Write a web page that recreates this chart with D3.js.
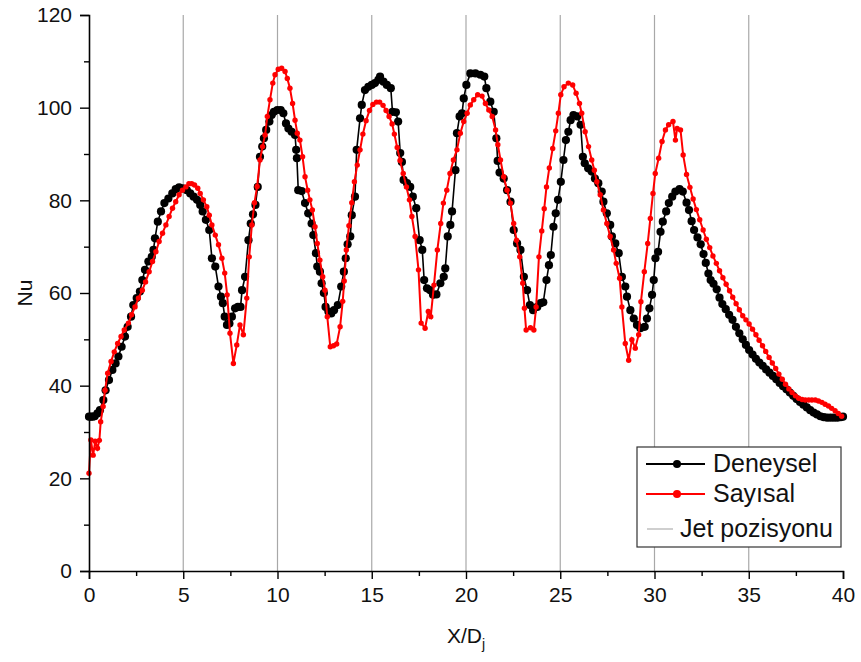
<!DOCTYPE html>
<html>
<head>
<meta charset="utf-8">
<script src="https://cdn.jsdelivr.net/npm/d3@7"></script>
<style>
  html, body { margin: 0; padding: 0; background: #fff; }
  svg { display: block; font-family: "Liberation Sans", Arial, sans-serif; }
</style>
</head>
<body>
<svg id="chart" width="861" height="662"></svg>
<script>
// Nusselt number along the plate: measured (Deneysel) and computed (Sayısal)
const deneysel = [
  [0.00,33.3],[0.10,33.3],[0.20,33.3],[0.30,33.4],[0.45,34.0],[0.58,34.7],[0.76,36.9],[0.88,39.0],
  [1.06,41.2],[1.24,43.4],[1.41,44.8],[1.56,46.3],[1.73,48.4],[1.91,50.6],[2.05,52.7],[2.23,54.9],
  [2.35,57.4],[2.53,58.9],[2.70,60.3],[2.83,62.8],[2.97,65.0],[3.15,66.8],[3.33,67.8],[3.42,69.3],
  [3.50,71.8],[3.65,75.4],[3.82,77.6],[4.00,79.4],[4.21,80.4],[4.42,81.5],[4.60,82.4],[4.78,82.8],
  [4.96,82.6],[5.19,82.2],[5.37,81.5],[5.55,80.8],[5.73,80.1],[5.90,79.0],[6.03,77.6],[6.20,75.8],
  [6.38,73.6],[6.52,67.5],[6.70,65.7],[6.87,61.4],[7.00,59.2],[7.10,57.8],[7.20,54.9],[7.32,53.1],
  [7.45,53.4],[7.58,54.9],[7.75,56.7],[7.90,57.0],[8.04,57.0],[8.12,60.6],[8.28,63.5],[8.46,71.4],
  [8.58,75.0],[8.70,77.0],[8.83,79.0],[8.95,82.9],[9.07,89.4],[9.19,91.6],[9.28,93.4],[9.40,95.2],
  [9.57,97.0],[9.69,98.4],[9.81,99.1],[9.99,99.5],[10.17,99.5],[10.31,98.8],[10.45,96.6],[10.58,95.5],
  [10.75,94.8],[10.93,94.1],[10.99,90.9],[11.03,89.1],[11.10,82.2],[11.28,82.0],[11.46,79.4],[11.63,77.2],
  [11.81,75.0],[11.90,72.5],[12.04,68.6],[12.11,65.7],[12.25,64.6],[12.34,62.1],[12.46,60.0],[12.55,57.0],
  [12.70,56.0],[12.85,55.6],[13.00,56.3],[13.20,57.4],[13.38,61.4],[13.52,64.6],[13.62,67.5],[13.72,70.5],
  [13.86,72.2],[13.94,76.8],[14.11,80.8],[14.20,90.9],[14.38,97.7],[14.47,100.6],[14.64,103.8],[14.82,104.5],
  [15.00,104.9],[15.17,105.3],[15.35,106.0],[15.44,106.7],[15.62,105.6],[15.80,104.9],[16.01,104.2],[16.10,99.1],
  [16.28,99.0],[16.40,97.0],[16.51,90.2],[16.60,88.3],[16.69,84.4],[16.87,83.7],[17.04,82.9],[17.18,80.8],
  [17.36,78.3],[17.54,71.4],[17.68,69.3],[17.78,62.8],[17.93,61.0],[18.10,60.6],[18.25,59.6],[18.43,59.7],
  [18.64,62.1],[18.82,63.5],[18.90,65.3],[19.03,72.2],[19.17,74.7],[19.26,77.6],[19.44,86.5],[19.52,94.5],
  [19.66,98.1],[19.79,98.8],[19.88,102.0],[20.02,104.9],[20.23,107.4],[20.50,107.4],[20.76,107.1],[20.97,106.7],
  [21.08,104.2],[21.29,101.3],[21.47,99.1],[21.61,93.4],[21.68,88.5],[21.78,86.0],[22.00,84.7],[22.18,82.2],
  [22.36,79.7],[22.53,73.6],[22.71,70.7],[22.89,69.3],[23.07,63.5],[23.24,60.6],[23.39,57.4],[23.56,56.3],
  [23.78,57.0],[23.96,57.8],[24.10,58.0],[24.27,62.8],[24.40,66.0],[24.50,68.2],[24.64,74.3],[24.76,77.2],
  [24.88,80.1],[25.03,84.0],[25.17,88.7],[25.30,93.0],[25.43,94.8],[25.55,97.3],[25.70,98.4],[25.90,98.1],
  [26.08,96.3],[26.20,89.4],[26.30,88.0],[26.48,86.9],[26.67,86.2],[26.84,84.7],[27.02,83.7],[27.20,81.9],
  [27.29,79.7],[27.47,77.2],[27.65,74.7],[27.74,72.2],[27.92,70.7],[28.10,68.6],[28.27,63.5],[28.45,61.4],
  [28.54,59.2],[28.72,56.3],[28.90,54.5],[29.07,53.1],[29.25,52.4],[29.48,52.7],[29.60,54.5],[29.73,56.7],
  [29.87,59.6],[29.96,62.8],[30.05,67.5],[30.19,68.9],[30.32,73.2],[30.44,75.4],[30.62,77.6],[30.76,79.4],
  [30.94,80.8],[31.11,81.9],[31.33,82.4],[31.50,81.9],[31.70,79.5],[31.83,77.9],[31.97,75.5],[32.10,73.6],
  [32.28,72.0],[32.45,70.5],[32.60,68.4],[32.72,66.5],[32.86,64.2],[32.98,62.8],[33.13,62.0],[33.30,60.8],
  [33.45,59.0],[33.60,57.6],[33.78,56.5],[33.96,55.3],[34.14,54.2],[34.32,52.7],[34.50,51.3],[34.68,50.0],
  [34.85,48.8],[35.02,47.7],[35.20,46.7],[35.38,45.8],[35.56,45.0],[35.74,44.3],[35.92,43.5],[36.10,42.8],
  [36.28,42.1],[36.46,41.4],[36.64,40.6],[36.82,39.9],[37.00,39.2],[37.18,38.5],[37.36,37.8],[37.54,37.1],
  [37.72,36.5],[37.90,35.9],[38.08,35.3],[38.26,34.7],[38.44,34.2],[38.62,33.8],[38.80,33.4],[38.98,33.2],
  [39.16,33.1],[39.34,33.1],[39.52,33.1],[39.70,33.1],[39.88,33.2],[40.00,33.3]
];

const sayisal = [
  [0.00,21.1],[0.10,28.3],[0.22,25.0],[0.33,28.0],[0.45,26.5],[0.55,28.2],[0.62,32.2],[0.75,35.5],
  [0.85,39.0],[0.99,42.7],[1.17,45.2],[1.34,47.3],[1.52,49.1],[1.70,50.6],[1.87,52.0],[2.09,53.5],
  [2.26,55.3],[2.44,57.0],[2.62,58.9],[2.83,60.6],[3.00,62.4],[3.19,64.6],[3.37,66.8],[3.55,68.9],
  [3.72,71.1],[3.90,72.9],[4.08,74.7],[4.25,76.5],[4.43,78.3],[4.60,79.7],[4.78,81.2],[4.96,82.2],
  [5.14,82.9],[5.30,83.6],[5.45,83.6],[5.60,83.3],[5.77,82.6],[5.90,81.5],[6.07,80.1],[6.25,78.6],
  [6.38,76.8],[6.52,74.7],[6.70,72.5],[6.87,70.4],[7.05,67.5],[7.20,64.3],[7.33,59.6],[7.48,51.3],
  [7.66,44.8],[7.84,48.8],[8.01,53.1],[8.19,51.0],[8.37,58.9],[8.50,67.8],[8.64,74.7],[8.78,79.5],
  [8.92,83.0],[9.07,88.7],[9.21,91.6],[9.34,94.1],[9.46,98.1],[9.60,101.7],[9.75,105.3],[9.87,107.1],
  [10.04,108.3],[10.22,108.5],[10.40,107.8],[10.52,106.3],[10.66,104.2],[10.80,100.9],[10.93,97.3],[11.05,94.5],
  [11.19,93.0],[11.33,89.4],[11.46,85.1],[11.60,82.2],[11.72,80.1],[11.85,77.9],[11.99,74.3],[12.11,70.7],
  [12.25,67.1],[12.40,63.5],[12.52,60.6],[12.64,54.9],[12.80,48.4],[12.97,48.6],[13.14,49.0],[13.32,52.7],
  [13.46,58.2],[13.54,62.6],[13.65,69.3],[13.79,74.5],[13.94,79.5],[14.08,84.0],[14.23,87.6],[14.38,90.9],
  [14.53,94.3],[14.70,97.2],[14.88,99.4],[15.06,100.7],[15.25,101.2],[15.42,101.2],[15.60,100.5],[15.76,99.4],
  [15.92,98.1],[16.08,96.5],[16.20,94.3],[16.35,91.4],[16.50,88.6],[16.67,85.8],[16.84,82.9],[17.00,80.1],
  [17.13,76.5],[17.30,72.2],[17.48,65.0],[17.62,53.5],[17.83,52.4],[18.00,56.0],[18.13,54.9],[18.30,61.7],
  [18.48,69.3],[18.66,75.0],[18.80,79.4],[18.98,82.2],[19.15,85.8],[19.33,88.7],[19.52,90.9],[19.70,94.5],
  [19.88,97.0],[20.06,98.8],[20.23,100.6],[20.41,101.7],[20.62,102.8],[20.85,102.5],[21.03,100.9],[21.21,99.5],
  [21.39,98.1],[21.57,95.2],[21.69,92.0],[21.83,88.7],[22.00,85.1],[22.18,82.2],[22.36,79.4],[22.53,75.0],
  [22.68,71.4],[22.85,67.8],[23.01,62.1],[23.10,56.7],[23.19,52.0],[23.42,52.5],[23.60,52.0],[23.72,57.0],
  [23.87,67.8],[24.02,73.4],[24.15,78.2],[24.27,82.9],[24.42,87.0],[24.60,91.2],[24.76,95.0],[24.90,98.8],
  [25.03,102.8],[25.20,104.5],[25.43,105.3],[25.66,104.9],[25.84,103.1],[26.02,100.9],[26.14,98.8],[26.32,94.8],
  [26.50,91.6],[26.67,88.7],[26.81,86.5],[26.94,84.0],[27.12,81.2],[27.29,77.9],[27.47,75.0],[27.65,72.2],
  [27.83,69.3],[27.97,66.4],[28.15,63.2],[28.27,57.0],[28.45,49.1],[28.63,45.5],[28.80,49.9],[28.98,48.1],
  [29.16,51.0],[29.28,58.1],[29.46,64.6],[29.64,70.7],[29.78,76.1],[29.92,81.5],[30.04,85.8],[30.22,89.1],
  [30.40,92.7],[30.58,95.2],[30.75,96.3],[30.98,97.0],[31.11,93.0],[31.20,95.5],[31.38,95.2],[31.52,89.8],
  [31.70,85.6],[31.88,82.8],[32.05,80.3],[32.22,78.0],[32.40,75.8],[32.58,73.6],[32.75,71.6],[32.93,69.8],
  [33.10,68.0],[33.28,66.4],[33.45,64.8],[33.63,63.3],[33.80,61.9],[33.98,60.5],[34.15,59.1],[34.33,57.7],
  [34.50,56.4],[34.68,55.1],[34.85,54.2],[35.02,53.3],[35.20,52.2],[35.38,51.0],[35.55,49.8],[35.73,48.6],
  [35.90,47.4],[36.08,46.1],[36.25,44.9],[36.43,43.7],[36.60,42.5],[36.78,41.4],[36.95,40.3],[37.13,39.3],
  [37.30,38.5],[37.48,37.8],[37.65,37.3],[37.83,37.0],[38.00,36.9],[38.18,36.9],[38.35,36.9],[38.53,36.9],
  [38.70,36.7],[38.88,36.4],[39.05,36.0],[39.23,35.6],[39.40,35.1],[39.58,34.6],[39.75,34.0],[39.93,33.4]
];

// jet positions along X/Dj
const jetPositions = [5, 10, 15, 20, 25, 30, 35];

const xTicks = [0, 5, 10, 15, 20, 25, 30, 35, 40];
const xMinorTicks = [2.5, 7.5, 12.5, 17.5, 22.5, 27.5, 32.5, 37.5];
const yTicks = [0, 20, 40, 60, 80, 100, 120];
const yMinorTicks = [10, 30, 50, 70, 90, 110];

const legendItems = [
  { label: "Deneysel", color: "#000000", kind: "series" },
  { label: "Sayısal", color: "#ff0000", kind: "series" },
  { label: "Jet pozisyonu", color: "#b0b0b0", kind: "jet" }
];

const margin = { top: 15, right: 18, bottom: 91, left: 89 };
const W = 861, H = 662;
const innerW = W - margin.left - margin.right;
const innerH = H - margin.top - margin.bottom;

const svg = d3.select("#chart");
const g = svg.append("g").attr("transform", `translate(${margin.left},${margin.top})`);

const x = d3.scaleLinear().domain([0, 40]).range([0, innerW]);
const y = d3.scaleLinear().domain([0, 120]).range([innerH, 0]);

// vertical jet position lines
g.append("g").selectAll("line")
  .data(jetPositions)
  .join("line")
  .attr("x1", d => x(d)).attr("x2", d => x(d))
  .attr("y1", y(0)).attr("y2", y(120))
  .attr("stroke", "#a8a8a8")
  .attr("stroke-width", 1.2);

const line = d3.line().x(d => x(d[0])).y(d => y(d[1]));

// measured series
g.append("path")
  .datum(deneysel)
  .attr("fill", "none")
  .attr("stroke", "#000")
  .attr("stroke-width", 1.6)
  .attr("d", line);
g.append("g").selectAll("circle")
  .data(deneysel)
  .join("circle")
  .attr("cx", d => x(d[0])).attr("cy", d => y(d[1]))
  .attr("r", 4.1)
  .attr("fill", "#000");

// computed series
g.append("path")
  .datum(sayisal)
  .attr("fill", "none")
  .attr("stroke", "#ff0000")
  .attr("stroke-width", 2)
  .attr("d", line);
g.append("g").selectAll("circle")
  .data(sayisal)
  .join("circle")
  .attr("cx", d => x(d[0])).attr("cy", d => y(d[1]))
  .attr("r", 2.7)
  .attr("fill", "#ff0000");

// axes
const tickFont = "21px";
g.append("g")
  .attr("transform", `translate(0,${innerH})`)
  .call(d3.axisBottom(x).tickValues(xTicks).tickSize(8).tickPadding(8).tickFormat(d3.format("d")));
g.append("g")
  .attr("transform", `translate(0,${innerH})`)
  .call(d3.axisBottom(x).tickValues(xMinorTicks).tickSize(5).tickFormat(""))
  .call(a => a.select(".domain").remove());

g.append("g")
  .call(d3.axisLeft(y).tickValues(yTicks).tickSize(9).tickPadding(8).tickFormat(d3.format("d")));
g.append("g")
  .call(d3.axisLeft(y).tickValues(yMinorTicks).tickSize(5).tickFormat(""))
  .call(a => a.select(".domain").remove());

svg.selectAll(".domain").attr("stroke", "#000").attr("stroke-width", 1.6);
svg.selectAll(".tick line").attr("stroke", "#000").attr("stroke-width", 1.4);
svg.selectAll(".tick text")
  .attr("fill", "#111")
  .style("font-size", tickFont)
  .style("font-family", "'Liberation Sans', Arial, sans-serif");

// axis titles
const xTitle = svg.append("text")
  .attr("x", margin.left + innerW / 2)
  .attr("y", 643)
  .attr("text-anchor", "middle")
  .attr("fill", "#111")
  .style("font-size", "21px");
xTitle.append("tspan").text("X/D");
xTitle.append("tspan").attr("dy", 6).style("font-size", "14px").text("j");

svg.append("text")
  .attr("transform", `translate(32,${margin.top + innerH / 2}) rotate(-90)`)
  .attr("text-anchor", "middle")
  .attr("fill", "#111")
  .style("font-size", "21px")
  .text("Nu");

// legend
const lg = svg.append("g").attr("transform", "translate(637,447)");
lg.append("rect")
  .attr("width", 204).attr("height", 100)
  .attr("fill", "#fff")
  .attr("stroke", "#333")
  .attr("stroke-width", 1.2);

const rowY = [17, 47, 82];
legendItems.forEach((it, i) => {
  const row = lg.append("g").attr("transform", `translate(0,${rowY[i]})`);
  if (it.kind === "series") {
    row.append("line")
      .attr("x1", 9).attr("x2", 68)
      .attr("stroke", it.color)
      .attr("stroke-width", 2.2);
    row.append("circle").attr("cx", 40).attr("r", 4).attr("fill", it.color);
    row.append("text")
      .attr("x", 76).attr("y", 8)
      .attr("fill", "#111")
      .style("font-size", "25px")
      .text(it.label);
  } else {
    row.append("line")
      .attr("x1", 10).attr("x2", 36)
      .attr("stroke", it.color)
      .attr("stroke-width", 1.2);
    row.append("text")
      .attr("x", 43).attr("y", 8)
      .attr("fill", "#111")
      .style("font-size", "25px")
      .text(it.label);
  }
});
</script>
</body>
</html>
